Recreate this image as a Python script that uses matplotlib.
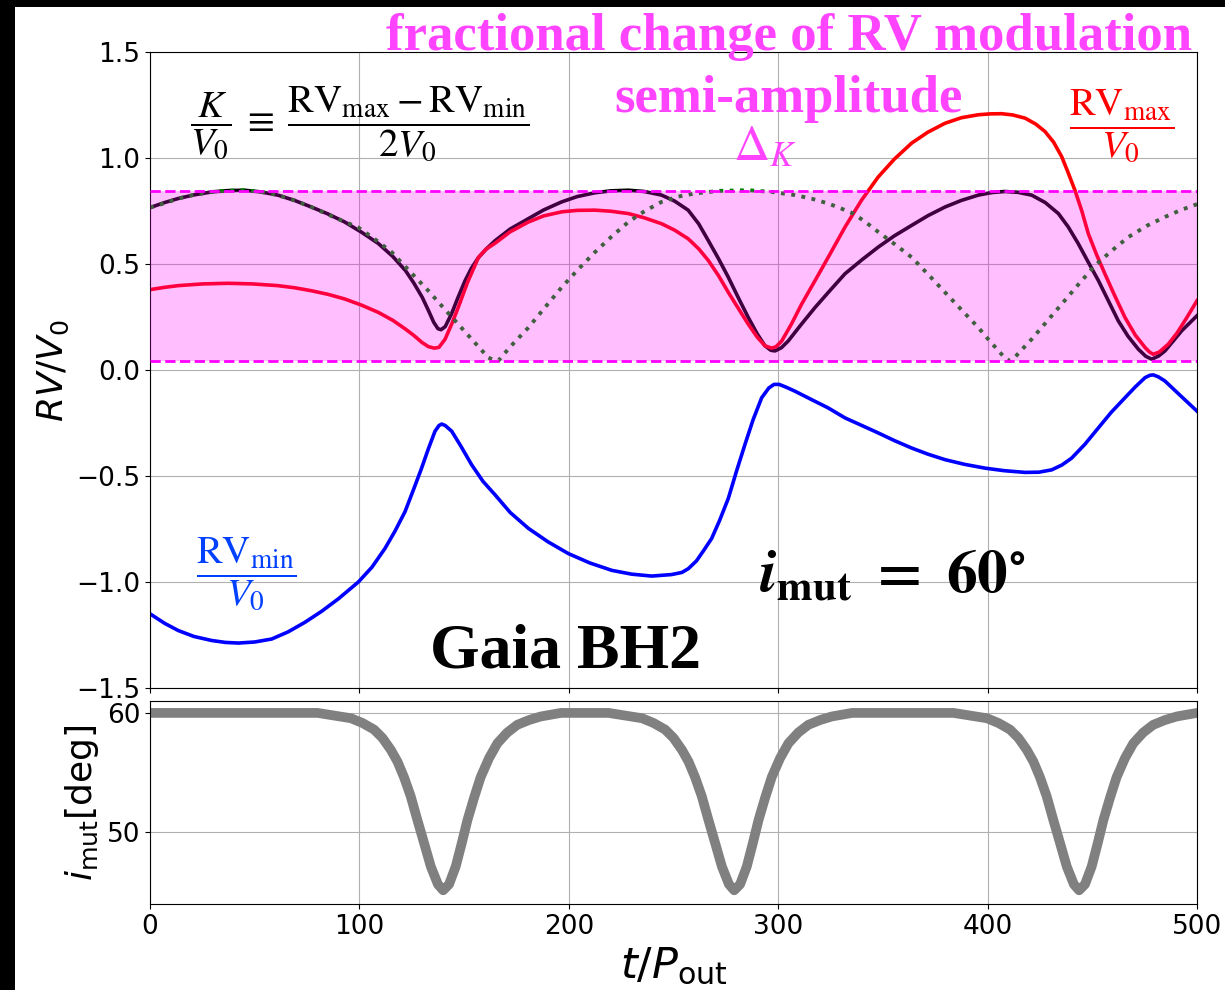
import numpy as np
import matplotlib
matplotlib.use("Agg")
import matplotlib.pyplot as plt
from matplotlib.patches import Rectangle

# K / V0 (black solid)
t_k = [0, 7, 13.5, 21, 29.5, 37, 45, 53, 61, 69, 77, 85, 93, 101, 109, 116, 122, 126, 130,
       133, 135.5, 137.5, 139, 141, 144, 147, 150.4, 153.5, 156.8, 160.5, 164.8, 172, 180.7,
       188, 196.6, 204, 212.5, 220, 228.4, 236, 244.3, 250.5, 257, 262, 266.6, 271.5, 276.2,
       281, 285.7, 290, 293.7, 296.5, 298.5, 301.5, 304.8, 311, 317.6, 325, 331.9, 340, 347.8,
       355.5, 363.7, 371.5, 379.7, 387.5, 395.6, 402, 408.3, 414.5, 421, 427.5, 433.8, 438.5,
       443.3, 448, 452.9, 457.5, 462.4, 467, 472, 475.5, 478.4, 481.5, 484.7, 488.5, 492.7,
       496.5, 500]
k_vals = [0.766, 0.79, 0.809, 0.826, 0.840, 0.846, 0.848, 0.840, 0.825, 0.800, 0.769, 0.736,
          0.698, 0.650, 0.597, 0.535, 0.469, 0.41, 0.343, 0.28, 0.225, 0.195, 0.19, 0.205,
          0.265, 0.34, 0.42, 0.48, 0.53, 0.57, 0.61, 0.665, 0.714, 0.755, 0.793, 0.818, 0.836,
          0.845, 0.848, 0.842, 0.825, 0.797, 0.754, 0.69, 0.611, 0.525, 0.437, 0.34, 0.248,
          0.17, 0.114, 0.093, 0.09, 0.105, 0.137, 0.215, 0.295, 0.378, 0.454, 0.52, 0.580,
          0.633, 0.682, 0.728, 0.769, 0.800, 0.825, 0.837, 0.842, 0.838, 0.825, 0.790, 0.738,
          0.675, 0.596, 0.51, 0.422, 0.33, 0.232, 0.16, 0.098, 0.065, 0.051, 0.065, 0.09,
          0.135, 0.185, 0.222, 0.256]

# RV_max / V0 (red)
t_max = [0, 7, 13.5, 25, 37.4, 49, 61, 69, 77, 85, 93, 101, 109, 116, 122, 126, 130, 133,
         135.8, 138, 140.9, 144, 147.2, 151.5, 156.8, 160.5, 164.8, 172, 180.7, 188, 196.6,
         204, 212.5, 220, 228.4, 236, 244.3, 250.5, 257, 262, 266.6, 271.5, 276.2, 281, 285.7,
         290, 293.7, 296.9, 299, 301.7, 306.5, 311.2, 317.5, 323.9, 331.9, 339.8, 347.8, 355.5,
         363.7, 371.5, 379.7, 387.5, 395.6, 401, 406.7, 412, 417.9, 423, 427.4, 431.5, 435.4,
         438.5, 441.7, 445, 448.1, 452, 456, 460.5, 465.6, 470.5, 475.2, 477.3, 479.1, 482,
         486.3, 490.5, 495, 500]
max_vals = [0.379, 0.390, 0.398, 0.406, 0.409, 0.406, 0.398, 0.388, 0.374, 0.357, 0.335,
            0.306, 0.272, 0.234, 0.193, 0.163, 0.129, 0.11, 0.103, 0.107, 0.145, 0.215, 0.295,
            0.41, 0.53, 0.57, 0.598, 0.652, 0.698, 0.727, 0.746, 0.753, 0.754, 0.749, 0.738,
            0.718, 0.690, 0.66, 0.619, 0.572, 0.517, 0.445, 0.366, 0.29, 0.216, 0.155, 0.114,
            0.103, 0.11, 0.137, 0.22, 0.311, 0.42, 0.532, 0.674, 0.801, 0.911, 0.995, 1.07,
            1.122, 1.164, 1.19, 1.204, 1.208, 1.209, 1.203, 1.188, 1.16, 1.125, 1.075, 1.006,
            0.93, 0.848, 0.75, 0.643, 0.545, 0.454, 0.355, 0.248, 0.165, 0.106, 0.085, 0.074,
            0.085, 0.122, 0.175, 0.245, 0.327]

# RV_min / V0 (blue)
t_min = [0, 7, 13.5, 21, 29.5, 36, 42.2, 50, 58.1, 66, 74, 82, 90, 99.5, 106, 112.2, 117,
         121.8, 126, 129.7, 133, 136.1, 138, 139.3, 141, 144.1, 148.5, 153.6, 159, 164.8, 172,
         180.7, 190, 199.8, 210, 220.5, 230, 239.6, 249, 254, 257.1, 261, 264.5, 268.2, 272,
         276.2, 280, 284.1, 288, 292.1, 295.5, 298, 300.5, 304, 308, 316, 323.9, 331.9, 340,
         347.8, 355.5, 363.7, 371.5, 379.7, 389, 398.8, 408, 417.9, 424.5, 430.6, 435.5, 440.1,
         446.5, 452.9, 459, 465.6, 470.5, 475.2, 477.5, 479.1, 481.5, 484.7, 492, 500]
min_vals = [-1.150, -1.195, -1.229, -1.257, -1.276, -1.285, -1.288, -1.283, -1.269, -1.235,
            -1.190, -1.138, -1.079, -1.0, -0.93, -0.842, -0.76, -0.668, -0.56, -0.463, -0.37,
            -0.289, -0.262, -0.255, -0.262, -0.289, -0.36, -0.447, -0.525, -0.589, -0.672,
            -0.747, -0.81, -0.866, -0.91, -0.945, -0.963, -0.972, -0.965, -0.955, -0.937, -0.90,
            -0.85, -0.795, -0.71, -0.605, -0.48, -0.352, -0.235, -0.131, -0.085, -0.068,
            -0.068, -0.082, -0.100, -0.14, -0.179, -0.226, -0.262, -0.297, -0.333, -0.368,
            -0.397, -0.423, -0.445, -0.463, -0.475, -0.483, -0.482, -0.471, -0.448, -0.416,
            -0.35, -0.273, -0.2, -0.131, -0.08, -0.036, -0.025, -0.023, -0.032, -0.052, -0.12,
            -0.194]

# dotted model curve
t_dot = [0, 8, 13.5, 21, 29.5, 37, 45, 53, 61, 69, 77, 88, 99.5, 107, 115.4, 124, 132.9, 140,
         147.2, 154.4, 161.6, 164, 166.3, 169, 173.5, 180.7, 188.6, 196.6, 204.5, 212.5, 220.5,
         228.4, 236.3, 244.3, 252.3, 260.3, 272, 285.7, 297, 308, 316, 324, 330, 335.9, 341.8,
         347.8, 355.7, 363.7, 371.7, 379.7, 387.6, 395.6, 401, 406.7, 408.8, 410.7, 413, 415.8,
         421, 428.2, 435.4, 443.3, 451.3, 459.2, 467.2, 476, 484.7, 492.4, 500]
dot_vals = [0.766, 0.79, 0.809, 0.826, 0.840, 0.846, 0.848, 0.840, 0.825, 0.80, 0.769, 0.72,
            0.672, 0.62, 0.556, 0.466, 0.374, 0.295, 0.216, 0.137, 0.058, 0.048, 0.043, 0.075,
            0.125, 0.200, 0.295, 0.390, 0.475, 0.556, 0.63, 0.698, 0.75, 0.793, 0.818, 0.833,
            0.845, 0.848, 0.84, 0.825, 0.808, 0.785, 0.762, 0.738, 0.697, 0.651, 0.593, 0.532,
            0.45, 0.366, 0.283, 0.200, 0.137, 0.074, 0.052, 0.043, 0.06, 0.09, 0.145, 0.228,
            0.311, 0.403, 0.493, 0.562, 0.627, 0.68, 0.722, 0.755, 0.782]

delta_lo = 0.043
delta_hi = 0.845

# mutual inclination: flat at 60 deg with three dips of the same shape
inc_flat_t = [0, 20, 40, 60, 360]
inc_flat_v = [60.0, 60.0, 60.0, 60.0, 60.0]
dip_centers = [140, 279, 443.7]
dip_offsets = [-60, -44, -38.5, -33, -29, -25, -21.8, -18.7, -15.5, -12.3, -9, -5.9, -2.5, 0,
               2.8, 6, 8.8, 11.6, 14.8, 17.9, 21.9, 25.9, 30.6, 35.4, 41, 46.6, 56.3]
dip_values = [60.0, 59.55, 59.15, 58.6, 57.9, 56.9, 55.9, 54.6, 53.0, 51.0, 49.0, 47.1, 45.6,
              45.1, 45.6, 47.1, 49.0, 51.0, 52.9, 54.6, 56.2, 57.45, 58.35, 59.0, 59.4, 59.7,
              60.0]

inc_t = list(inc_flat_t)
inc_v = list(inc_flat_v)
for c in dip_centers:
    inc_t += [c + o for o in dip_offsets]
    inc_v += dip_values
order = np.argsort(inc_t)
inc_t = np.array(inc_t)[order]
inc_v = np.array(inc_v)[order]

W, H = 1225, 990
fig = plt.figure(figsize=(W / 100, H / 100), dpi=100, facecolor='black')
fig.patches.append(Rectangle((15 / W, 0), 1 - 15 / W, 1 - 7 / H, transform=fig.transFigure,
                             facecolor='white', edgecolor='none', zorder=-10))

ax = fig.add_axes([150 / W, 1 - 688 / H, (1197 - 150) / W, (688 - 52) / H])
ax2 = fig.add_axes([150 / W, 1 - 904 / H, (1197 - 150) / W, (904 - 701) / H], sharex=ax)

ax.plot(t_k, k_vals, color='black', lw=2.6, zorder=2)
ax.plot(t_max, max_vals, color='red', lw=2.6, zorder=2)
ax.plot(t_min, min_vals, color='blue', lw=2.6, zorder=2)
ax.plot(t_dot, dot_vals, color='green', ls=':', lw=2.8, zorder=2)
ax.fill_between([0, 500], delta_lo, delta_hi, color='magenta', alpha=0.25, lw=0, zorder=3)
ax.axhline(delta_hi, color='magenta', ls='--', lw=2, zorder=4)
ax.axhline(delta_lo, color='magenta', ls='--', lw=2, zorder=4)

ax.set_xlim(0, 500)
ax.set_ylim(-1.5, 1.5)
ax.set_yticks([-1.5, -1.0, -0.5, 0.0, 0.5, 1.0, 1.5])
ax.grid(True, zorder=0)
ax.set_axisbelow(True)
ax.tick_params(labelsize=19, labelbottom=False)
ax.set_ylabel(r'$RV/V_0$', fontsize=26)

ax2.plot(inc_t, inc_v, color='gray', lw=7, solid_capstyle='round', solid_joinstyle='round')
ax2.set_ylim(43.95, 61.0)
ax2.set_yticks([50, 60])
ax2.set_xticks([0, 100, 200, 300, 400, 500])
ax2.grid(True)
ax2.set_axisbelow(True)
ax2.tick_params(labelsize=19)
ax2.set_ylabel(r'$i_{\rm mut}$[deg]', fontsize=26)
ax2.set_xlabel(r'$t/P_{\rm out}$', fontsize=31)

pink = '#ff44ff'
ax.text(0.610, 1.003, 'fractional change of RV modulation', transform=ax.transAxes,
        ha='center', va='baseline', color=pink, fontsize=38, fontweight='bold',
        family='Liberation Serif', clip_on=False)
ax.text(0.610, 0.906, 'semi-amplitude', transform=ax.transAxes, ha='center', va='baseline',
        color=pink, fontsize=38, fontweight='bold', family='Liberation Serif')
ax.text(0.587, 0.851, r'$\Delta_K$', transform=ax.transAxes, ha='center', va='center',
        color=pink, fontsize=36, math_fontfamily='stix')

ax.text(0.038, 0.887,
        r'$\dfrac{K}{V_0}\;\equiv\;\dfrac{\mathrm{RV}_{\mathrm{max}}-\mathrm{RV}_{\mathrm{min}}}{2V_0}$',
        transform=ax.transAxes, ha='left', va='center', color='black', fontsize=28,
        math_fontfamily='stix')
ax.text(0.928, 0.884, r'$\dfrac{\mathrm{RV}_{\mathrm{max}}}{V_0}$', transform=ax.transAxes,
        ha='center', va='center', color='red', fontsize=28, math_fontfamily='stix')
ax.text(0.092, 0.179, r'$\dfrac{\mathrm{RV}_{\mathrm{min}}}{V_0}$', transform=ax.transAxes,
        ha='center', va='center', color='#0040ff', fontsize=28, math_fontfamily='stix')

ax.text(0.397, 0.033, 'Gaia BH2', transform=ax.transAxes, ha='center', va='baseline',
        color='black', fontsize=46, fontweight='bold', family='Liberation Serif')
ax.text(0.709, 0.151, r'$\boldsymbol{i}_{\mathbf{mut}}\ \mathbf{=\ 60^{\circ}}$',
        transform=ax.transAxes, ha='center', va='baseline', color='black', fontsize=44,
        math_fontfamily='stix')

fig.savefig('out.png', dpi=100, facecolor=fig.get_facecolor())
